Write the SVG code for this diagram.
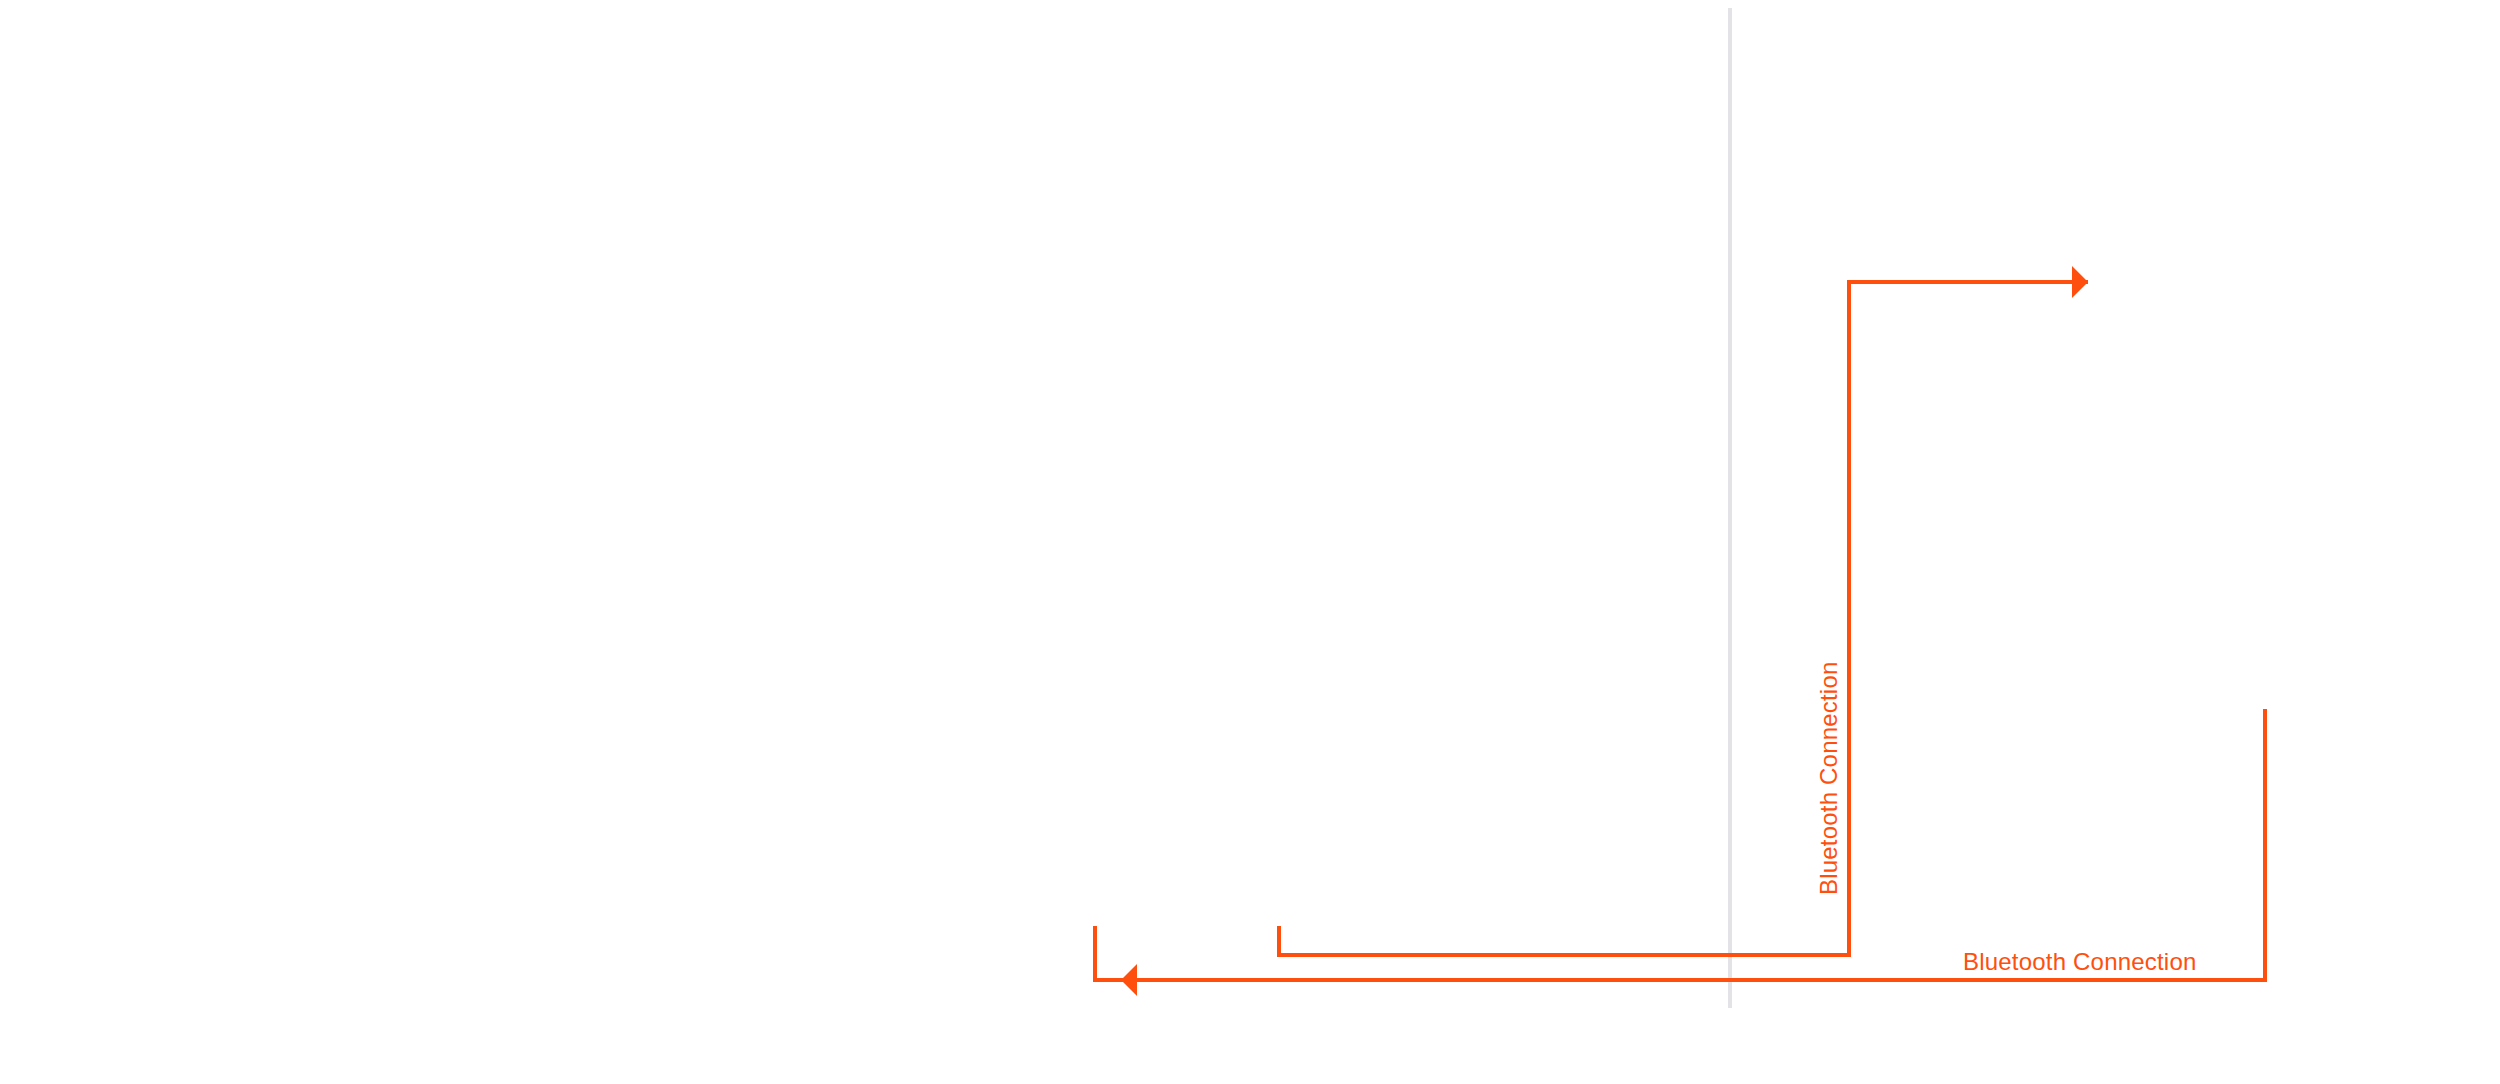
<svg xmlns="http://www.w3.org/2000/svg" width="2500" height="1084" viewBox="0 0 2500 1084">
<style>
.c{fill:none;stroke:#ff4f0e;stroke-width:4}
.t{font-family:"Liberation Sans",Arial,sans-serif;font-size:24px;letter-spacing:0.2px;fill:#ff4f0e}
</style>
<defs>
<marker id="ah" viewBox="0 0 16 32" refX="16" refY="16" markerUnits="userSpaceOnUse" markerWidth="16" markerHeight="32" orient="auto">
<path d="M0,0 L16,16 L0,32 Z" fill="#ff4f0e"/>
</marker>
</defs>
<rect width="2500" height="1084" fill="#fff"/>
<line x1="1730" y1="8" x2="1730" y2="1008" stroke="#e3e3e7" stroke-width="4"/>
<g id="connectors">
<path class="c" d="M1279,926 V955 H1849 V282 H2088" marker-end="url(#ah)"/>
<path class="c" d="M2265,709 V980 H1121" marker-end="url(#ah)"/>
<path class="c" d="M1095,926 V980 H1124"/>
<text class="t" transform="translate(1837,895) rotate(-90)">Bluetooth Connection</text>
<text class="t" x="1963" y="970">Bluetooth Connection</text>
</g>
</svg>
